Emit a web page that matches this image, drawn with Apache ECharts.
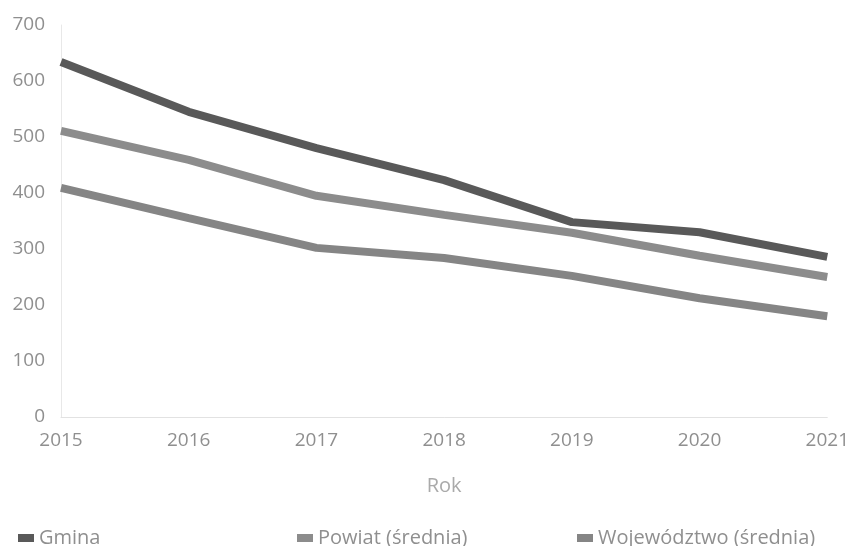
<!DOCTYPE html>
<html><head><meta charset="utf-8">
<script src="https://cdn.jsdelivr.net/npm/echarts@6/dist/echarts.min.js"></script>
<style>html,body{margin:0;padding:0;background:#fff}#c{width:852px;height:546px}</style>
</head><body><div id="c"></div>
<script>
const years = ['2015','2016','2017','2018','2019','2020','2021'];
const gmina = [634, 545, 480, 423, 348, 330, 286];
const powiat = [511, 459, 395, 361, 329, 288, 250];
const wojewodztwo = [409, 355, 302, 284, 252, 212, 180];
const yTicks = [0, 100, 200, 300, 400, 500, 600, 700];

const chart = echarts.init(document.getElementById('c'));
const font = 'Open Sans';
const mkLegend = (name, left) => ({
  data: [name], left: left, top: 523, icon: 'rect', itemWidth: 16, itemHeight: 8, itemGap: 10,
  textStyle: {color: '#8f8f8f', fontSize: 20, fontFamily: font}
});
chart.setOption({
  animation: false,
  legend: [mkLegend('Gmina', 13), mkLegend('Powiat (średnia)', 292), mkLegend('Województwo (średnia)', 572)],
  grid: {left: 61, right: 22, top: 25, bottom: 129},
  xAxis: {
    type: 'category', data: years, boundaryGap: false,
    name: 'Rok', nameLocation: 'middle', nameGap: 59,
    nameTextStyle: {color: '#aaaaaa', fontSize: 20, fontFamily: font},
    axisLine: {lineStyle: {color: '#e2e2e2', width: 1}},
    axisTick: {show: false},
    axisLabel: {color: '#8f8f8f', fontSize: 19, fontFamily: font, margin: 14, showMaxLabel: true}
  },
  yAxis: {
    type: 'value', min: yTicks[0], max: yTicks[yTicks.length-1], interval: 100,
    axisLine: {show: true, lineStyle: {color: '#e8e8e8', width: 1}},
    axisTick: {show: false},
    splitLine: {show: false},
    axisLabel: {color: '#8f8f8f', fontSize: 19, fontFamily: font, margin: 16}
  },
  series: [
    {name: 'Gmina', type: 'line', data: gmina, symbol: 'none', lineStyle: {width: 8, color: '#595959'}, itemStyle: {color: '#595959'}},
    {name: 'Powiat (średnia)', type: 'line', data: powiat, symbol: 'none', lineStyle: {width: 8, color: '#8c8c8c'}, itemStyle: {color: '#8c8c8c'}},
    {name: 'Województwo (średnia)', type: 'line', data: wojewodztwo, symbol: 'none', lineStyle: {width: 8, color: '#858585'}, itemStyle: {color: '#858585'}}
  ]
});
</script></body></html>
